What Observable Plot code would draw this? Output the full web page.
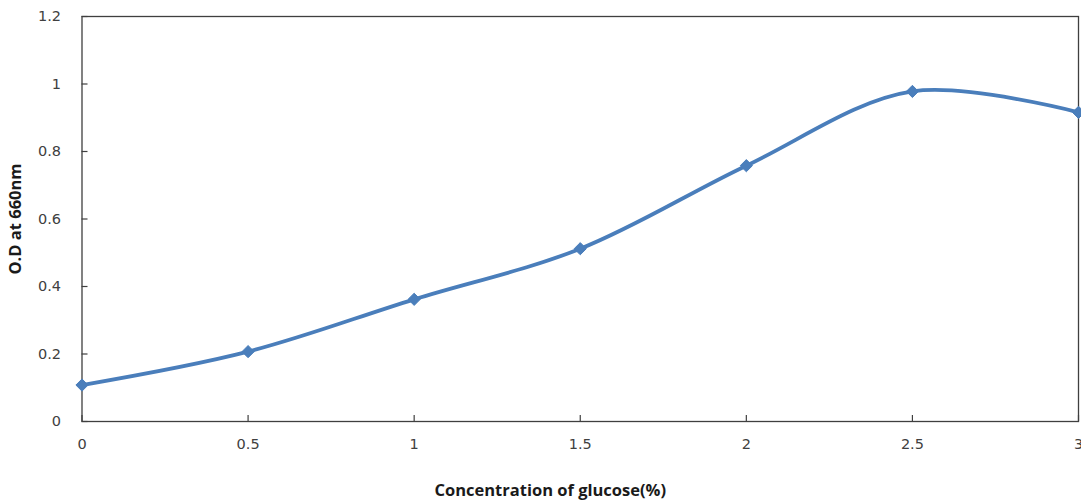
<!DOCTYPE html>
<html>
<head>
<meta charset="utf-8">
<script src="https://cdn.jsdelivr.net/npm/d3@7"></script>
<script src="https://cdn.jsdelivr.net/npm/@observablehq/plot@0.6"></script>
<style>
  html, body { margin: 0; padding: 0; background: #fff; }
  #chart svg { display: block; }
</style>
</head>
<body>
<div id="chart"></div>
<script>
// Glucose concentration (%) vs optical density at 660 nm
const glucose = [0, 0.5, 1, 1.5, 2, 2.5, 3];
const od660 = [0.108, 0.207, 0.362, 0.512, 0.758, 0.978, 0.916];
const xTicks = [0, 0.5, 1, 1.5, 2, 2.5, 3];
const yTicks = [0, 0.2, 0.4, 0.6, 0.8, 1, 1.2];
const xTitle = "Concentration of glucose(%)";
const yTitle = "O.D at 660nm";

const data = glucose.map((g, i) => ({g, od: od660[i]}));

const W = 1081, H = 502;
const mL = 81.5, mR = 3, mT = 16, mB = 81;
const plotW = W - mL - mR, plotH = H - mT - mB;
const blue = "#4a7ebb";
const axisColor = "#3f3f3f";

const chart = Plot.plot({
  width: W,
  height: H,
  marginLeft: mL,
  marginRight: mR,
  marginTop: mT,
  marginBottom: mB,
  style: {fontFamily: "DejaVu Sans, sans-serif", fontSize: "14px", color: "#404040", background: "#fff"},
  x: {domain: [0, 3], label: null},
  y: {domain: [0, 1.2], label: null},
  marks: [
    Plot.frame({stroke: axisColor, strokeWidth: 1.3}),
    // inward tick marks
    Plot.tickY(yTicks, {stroke: axisColor, strokeWidth: 1.2, insetRight: plotW - 6}),
    Plot.tickX(xTicks, {stroke: axisColor, strokeWidth: 1.2, insetTop: plotH - 6}),
    Plot.axisY(yTicks, {label: null, tickSize: 0, tickPadding: 21, tickFormat: d => String(d), fill: "#404040", fontSize: 14.5}),
    Plot.axisX(xTicks, {label: null, tickSize: 0, tickPadding: 17, tickFormat: d => String(d), fill: "#404040", fontSize: 14.5}),
    Plot.line(data, {x: "g", y: "od", stroke: blue, strokeWidth: 3.8, curve: "catmull-rom"}),
    Plot.dot(data, {x: "g", y: "od", symbol: "diamond2", r: 5.5, fill: blue, stroke: blue, strokeWidth: 1}),
    Plot.text([xTitle], {frameAnchor: "bottom", dx: -30, dy: 69, textAnchor: "middle", lineAnchor: "middle", fontWeight: "bold", fontSize: 16.5, fontFamily: "Open Sans, sans-serif", fill: "#1a1a1a"}),
    Plot.text([yTitle], {frameAnchor: "left", dx: -66, rotate: -90, textAnchor: "middle", lineAnchor: "middle", fontWeight: "bold", fontSize: 16.5, fontFamily: "Open Sans, sans-serif", fill: "#1a1a1a"})
  ]
});

document.getElementById("chart").appendChild(chart);
</script>
</body>
</html>
